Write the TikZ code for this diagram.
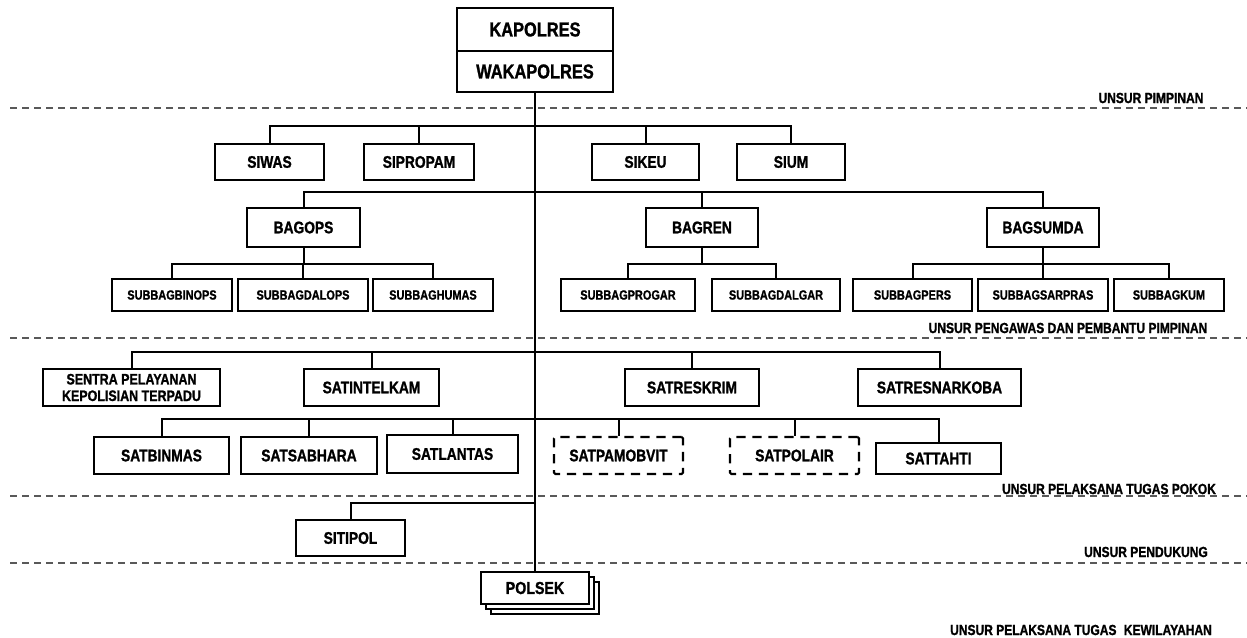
\documentclass[tikz,border=0pt]{standalone}
\usepackage{fontspec}
\newfontfamily\nar[FakeStretch=0.82,FakeBold=1.2]{Liberation Sans Bold}
\newcommand\ubox[7][]{\node[#1] (#2) at ({(#3+#5)/2},{(#4+#6)/2}) [minimum width={(#5-#3)*0.75pt}, minimum height={(#6-#4)*0.75pt}] {#7};}
\tikzset{
  box/.style={draw, fill=white, line width=1.6pt, inner sep=0pt, text=black},
  dbox/.style={box, dash pattern=on 7pt off 5pt, rounded corners=1pt},
  ftop/.style={font=\nar\fontsize{15}{17}\selectfont},
  fmain/.style={font=\nar\fontsize{12.6}{14}\selectfont},
  fsub/.style={font=\nar\fontsize{10}{12}\selectfont},
  fsen/.style={font=\nar\fontsize{11.4}{12.4}\selectfont, align=center},
  fpol/.style={font=\nar\fontsize{13}{15}\selectfont},
  lbl/.style={font=\nar\fontsize{11}{13}\selectfont, inner sep=0pt},
  conn/.style={line width=1.5pt, black},
  sep/.style={line width=1.4pt, color=black!65, dash pattern=on 5.25pt off 3.75pt}
}
\begin{document}
\begin{tikzpicture}[x=0.75pt,y=-0.75pt]
\useasboundingbox (0,0) rectangle (1247,638);
% separators
\coordinate (d1a) at (10,108); \coordinate (d1b) at (1247,108);
\coordinate (d2a) at (10,338); \coordinate (d2b) at (1247,338);
\coordinate (d3a) at (10,496); \coordinate (d3b) at (1247,496);
\coordinate (d4a) at (10,563); \coordinate (d4b) at (1247,563);
\draw[sep] (d1a) -- (d1b);
\draw[sep] (d2a) -- (d2b);
\draw[sep] (d3a) -- (d3b);
\draw[sep] (d4a) -- (d4b);
% labels
\node[lbl] (l1) at (1151,98) {UNSUR PIMPINAN};
\node[lbl] (l2) at (1068,328) {UNSUR PENGAWAS DAN PEMBANTU PIMPINAN};
\node[lbl] (l3) at (1109,489) {UNSUR PELAKSANA TUGAS POKOK};
\node[lbl] (l4) at (1146,552) {UNSUR PENDUKUNG};
\node[lbl] (l5) at (1081,630) {UNSUR PELAKSANA TUGAS\hspace{0.5em}KEWILAYAHAN};
% bus coordinates
\coordinate (b1) at (535,126);
\coordinate (b2) at (535,192);
\coordinate (b3) at (535,352);
\coordinate (b4) at (535,419);
\coordinate (b5) at (535,503);
% top
\ubox[box,ftop]{kap}{457}{8}{613}{51}{KAPOLRES}
\ubox[box,ftop]{wak}{457}{51}{613}{92}{WAKAPOLRES}
% polsek stack
\ubox[box]{polsekc}{491}{582}{599}{614}{}
\ubox[box]{polsekb}{486}{577}{594}{609}{}
\ubox[box,fpol]{polsek}{481}{572}{589}{604}{POLSEK}
% trunk
\draw[conn] (wak.south) -- (polsek.north);
% row 1
\ubox[box,fmain]{siwas}{215}{144}{324}{180}{SIWAS}
\ubox[box,fmain]{sipropam}{364}{144}{474}{180}{SIPROPAM}
\ubox[box,fmain]{sikeu}{592}{144}{699}{180}{SIKEU}
\ubox[box,fmain]{sium}{737}{144}{845}{180}{SIUM}
\draw[conn] (siwas.north) |- (b1) -| (sium.north);
\draw[conn] (sipropam.north) -- (sipropam.north |- b1);
\draw[conn] (sikeu.north) -- (sikeu.north |- b1);
% row 2
\ubox[box,fmain]{bagops}{247}{208}{360}{247}{BAGOPS}
\ubox[box,fmain]{bagren}{646}{208}{758}{247}{BAGREN}
\ubox[box,fmain]{bagsumda}{987}{208}{1099}{247}{BAGSUMDA}
\draw[conn] (bagops.north) |- (b2) -| (bagsumda.north);
\draw[conn] (bagren.north) -- (bagren.north |- b2);
% subbag
\ubox[box,fsub]{binops}{112}{279}{232}{311}{SUBBAGBINOPS}
\ubox[box,fsub]{dalops}{238}{279}{368}{311}{SUBBAGDALOPS}
\ubox[box,fsub]{humas}{373}{279}{493}{311}{SUBBAGHUMAS}
\ubox[box,fsub]{progar}{561}{279}{695}{311}{SUBBAGPROGAR}
\ubox[box,fsub]{dalgar}{712}{279}{840}{311}{SUBBAGDALGAR}
\ubox[box,fsub]{pers}{853}{279}{972}{311}{SUBBAGPERS}
\ubox[box,fsub]{sarpras}{978}{279}{1108}{311}{SUBBAGSARPRAS}
\ubox[box,fsub]{kum}{1114}{279}{1224}{311}{SUBBAGKUM}
\path (bagops.south) ++(0,16) coordinate (s1);
\path (bagren.south) ++(0,16) coordinate (s2);
\path (bagsumda.south) ++(0,16) coordinate (s3);
\draw[conn] (bagops.south) -- (s1);
\draw[conn] (binops.north) |- (s1) -| (humas.north);
\draw[conn] (dalops.north) -- (dalops.north |- s1);
\draw[conn] (bagren.south) -- (s2);
\draw[conn] (progar.north) |- (s2) -| (dalgar.north);
\draw[conn] (bagsumda.south) -- (s3);
\draw[conn] (pers.north) |- (s3) -| (kum.north);
\draw[conn] (sarpras.north) -- (sarpras.north |- s3);
% row 3
\ubox[box,fsen]{sentra}{43}{369}{220}{406}{SENTRA PELAYANAN\\KEPOLISIAN TERPADU}
\ubox[box,fmain]{satintelkam}{304}{369}{439}{406}{SATINTELKAM}
\ubox[box,fmain]{satreskrim}{625}{369}{759}{406}{SATRESKRIM}
\ubox[box,fmain]{satresnarkoba}{858}{369}{1021}{406}{SATRESNARKOBA}
\draw[conn] (sentra.north) |- (b3) -| (satresnarkoba.north);
\draw[conn] (satintelkam.north) -- (satintelkam.north |- b3);
\draw[conn] (satreskrim.north) -- (satreskrim.north |- b3);
% row 4
\ubox[box,fmain]{satbinmas}{94}{437}{229}{474}{SATBINMAS}
\ubox[box,fmain]{satsabhara}{241}{437}{377}{474}{SATSABHARA}
\ubox[box,fmain]{satlantas}{387}{435}{518}{473}{SATLANTAS}
\ubox[dbox,fmain]{satpamobvit}{554}{437}{683}{474}{SATPAMOBVIT}
\ubox[dbox,fmain]{satpolair}{730}{437}{859}{474}{SATPOLAIR}
\ubox[box,fmain]{sattahti}{876}{443}{1001}{474}{SATTAHTI}
\draw[conn] (satbinmas.north) |- (b4) -| (sattahti.north);
\draw[conn] (satsabhara.north) -- (satsabhara.north |- b4);
\draw[conn] (satlantas.north) -- (satlantas.north |- b4);
\draw[conn] (satpamobvit.north) -- (satpamobvit.north |- b4);
\draw[conn] (satpolair.north) -- (satpolair.north |- b4);
% sitipol
\ubox[box,fmain]{sitipol}{296}{520}{405}{556}{SITIPOL}
\draw[conn] (sitipol.north) |- (b5);
\end{tikzpicture}
\end{document}
